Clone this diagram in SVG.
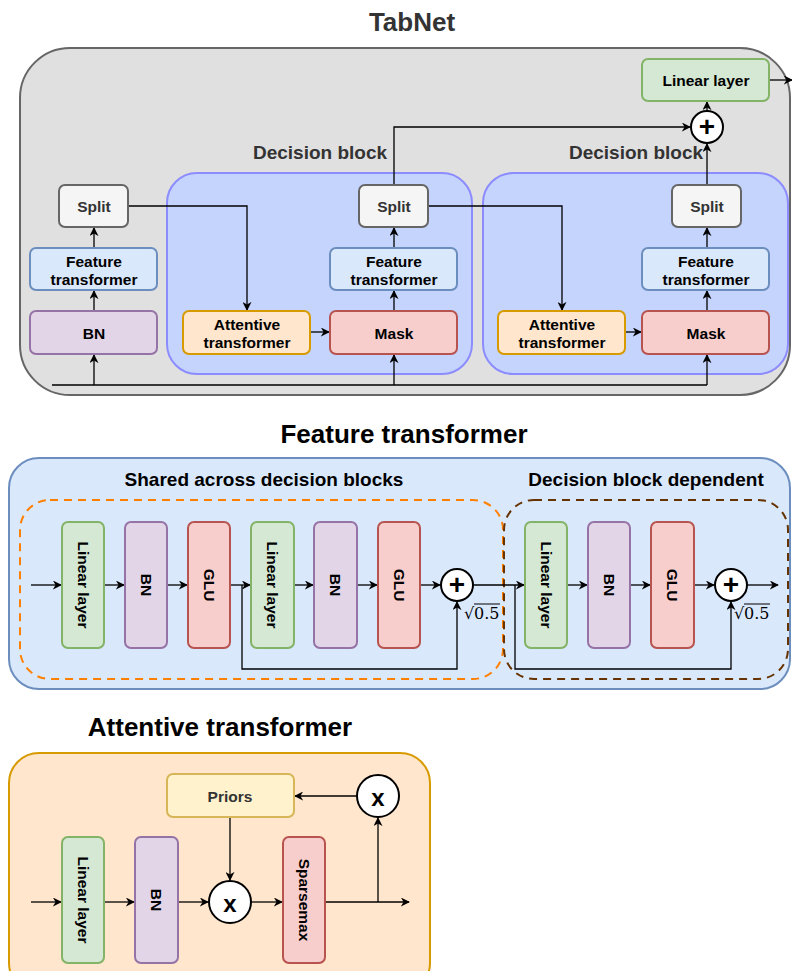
<svg xmlns="http://www.w3.org/2000/svg" width="792" height="971" viewBox="0 0 792 971">
<defs>
<marker id="arr" viewBox="0 0 10 10" refX="9" refY="5" markerWidth="9" markerHeight="9" markerUnits="userSpaceOnUse" orient="auto">
<path d="M0,0 L10,5 L0,10 L3,5 z" fill="#000"/>
</marker>
</defs>
<style>
.t{font-family:"Liberation Sans",Arial,sans-serif;font-weight:bold;text-anchor:middle;dominant-baseline:central}
.title{font-size:26px}
.sub{font-size:19px}
.lbl{font-size:15.5px}
.ln{fill:none;stroke:#000;stroke-width:1.3}
.la{fill:none;stroke:#000;stroke-width:1.3;marker-end:url(#arr)}
.gray{fill:#f5f5f5;stroke:#666;stroke-width:2}
.blue{fill:#dae8fc;stroke:#6c8ebf;stroke-width:2}
.purple{fill:#e1d5e7;stroke:#9673a6;stroke-width:2}
.orange{fill:#ffe6cc;stroke:#d79b00;stroke-width:2}
.red{fill:#f8cecc;stroke:#b85450;stroke-width:2}
.green{fill:#d5e8d4;stroke:#82b366;stroke-width:2}
.yellow{fill:#fff2cc;stroke:#d6b656;stroke-width:2}
.circ{fill:#fff;stroke:#000;stroke-width:2}
.sym{font-family:"Liberation Sans",Arial,sans-serif;font-weight:bold;text-anchor:middle;dominant-baseline:central}
.math{font-family:"DejaVu Serif","Liberation Serif",serif;font-size:16px}
</style>

<!-- ===== TabNet ===== -->
<g id="tabnet-title"><text class="t title" x="412" y="22" fill="#333">TabNet</text></g>
<g id="tabnet-box"><rect x="20" y="48" width="770" height="347" rx="50" fill="#e0e0e0" stroke="#666" stroke-width="2"/></g>

<g id="decision-block-1">
<rect x="167" y="173" width="305" height="201" rx="30" fill="#c5d4fd" stroke="#8c8cff" stroke-width="2"/>
<text class="t sub" x="320" y="152" fill="#333">Decision block</text>
</g>
<g id="decision-block-2">
<rect x="483" y="173" width="305" height="201" rx="30" fill="#c5d4fd" stroke="#8c8cff" stroke-width="2"/>
<text class="t sub" x="636" y="152" fill="#333">Decision block</text>
</g>

<g id="connectors-tabnet">
<path class="ln" d="M52,385 H707"/>
<path class="la" d="M94,385 V355"/>
<path class="la" d="M394,385 V355"/>
<path class="la" d="M707,385 V355"/>
<path class="la" d="M94,311 V291"/>
<path class="la" d="M94,248 V228"/>
<path class="la" d="M128,206 H247 V310"/>
<path class="la" d="M310,332 H329"/>
<path class="la" d="M394,311 V291"/>
<path class="la" d="M394,248 V228"/>
<path class="la" d="M428,206 H562 V310"/>
<path class="la" d="M625,332 H641"/>
<path class="la" d="M707,311 V291"/>
<path class="la" d="M707,248 V228"/>
<path class="la" d="M394,185 V127 H690"/>
<path class="la" d="M707,185 V144"/>
<path class="la" d="M707,111 V102"/>
<path class="la" d="M769,80 H792"/>
</g>

<g id="split-0"><rect class="gray" x="59" y="185" width="69" height="42" rx="6"/><text class="t lbl" x="94" y="206" fill="#333">Split</text></g>
<g id="ft-0"><rect class="blue" x="30" y="248" width="127" height="42" rx="6"/><text class="t lbl" x="94" y="261">Feature</text><text class="t lbl" x="94" y="279">transformer</text></g>
<g id="bn-0"><rect class="purple" x="30" y="311" width="127" height="43" rx="6"/><text class="t lbl" x="94" y="333">BN</text></g>

<g id="att-1"><rect class="orange" x="183" y="311" width="127" height="43" rx="6"/><text class="t lbl" x="247" y="324">Attentive</text><text class="t lbl" x="247" y="342">transformer</text></g>
<g id="mask-1"><rect class="red" x="330" y="311" width="127" height="43" rx="6"/><text class="t lbl" x="394" y="333">Mask</text></g>
<g id="ft-1"><rect class="blue" x="330" y="248" width="127" height="42" rx="6"/><text class="t lbl" x="394" y="261">Feature</text><text class="t lbl" x="394" y="279">transformer</text></g>
<g id="split-1"><rect class="gray" x="359" y="185" width="69" height="42" rx="6"/><text class="t lbl" x="394" y="206" fill="#333">Split</text></g>

<g id="att-2"><rect class="orange" x="498" y="311" width="127" height="43" rx="6"/><text class="t lbl" x="562" y="324">Attentive</text><text class="t lbl" x="562" y="342">transformer</text></g>
<g id="mask-2"><rect class="red" x="642" y="311" width="127" height="43" rx="6"/><text class="t lbl" x="706" y="333">Mask</text></g>
<g id="ft-2"><rect class="blue" x="642" y="248" width="127" height="42" rx="6"/><text class="t lbl" x="706" y="261">Feature</text><text class="t lbl" x="706" y="279">transformer</text></g>
<g id="split-2"><rect class="gray" x="672" y="185" width="69" height="42" rx="6"/><text class="t lbl" x="707" y="206" fill="#333">Split</text></g>

<g id="plus-top"><circle class="circ" cx="707" cy="127" r="16"/><text class="sym" x="707" y="126" font-size="28">+</text></g>
<g id="linear-top"><rect class="green" x="642" y="59" width="127" height="42" rx="6"/><text class="t lbl" x="706" y="80">Linear layer</text></g>

<!-- ===== Feature transformer ===== -->
<g id="ft-title"><text class="t title" x="404" y="434">Feature transformer</text></g>
<g id="ft-box"><rect class="blue" x="9" y="458" width="781" height="231" rx="30"/></g>
<g id="shared-group">
<rect x="20" y="500" width="483" height="179" rx="30" fill="none" stroke="#ff8000" stroke-width="2" stroke-dasharray="8,6"/>
<text class="t sub" x="264" y="479">Shared across decision blocks</text>
</g>
<g id="dependent-group">
<rect x="504" y="500" width="284" height="179" rx="30" fill="none" stroke="#663300" stroke-width="2" stroke-dasharray="8,6"/>
<text class="t sub" x="646" y="479">Decision block dependent</text>
</g>

<g id="connectors-ft">
<path class="la" d="M31,585 H61"/>
<path class="la" d="M104,585 H124"/>
<path class="la" d="M167,585 H187"/>
<path class="la" d="M230,585 H250"/>
<path class="la" d="M294,585 H313"/>
<path class="la" d="M357,585 H377"/>
<path class="la" d="M420,585 H440"/>
<path class="la" d="M473,585 H524"/>
<path class="la" d="M567,585 H587"/>
<path class="la" d="M630,585 H650"/>
<path class="la" d="M694,585 H714"/>
<path class="la" d="M747,585 H778"/>
<path class="la" d="M242,585 V669 H457 V602"/>
<path class="la" d="M515,585 V669 H731 V602"/>
</g>

<g id="ft-lin1"><rect class="green" x="62" y="522" width="42" height="126" rx="6"/><text class="t lbl" transform="translate(83,585) rotate(90)">Linear layer</text></g>
<g id="ft-bn1"><rect class="purple" x="125" y="522" width="42" height="126" rx="6"/><text class="t lbl" transform="translate(146,585) rotate(90)">BN</text></g>
<g id="ft-glu1"><rect class="red" x="188" y="522" width="42" height="126" rx="6"/><text class="t lbl" transform="translate(209,585) rotate(90)">GLU</text></g>
<g id="ft-lin2"><rect class="green" x="251" y="522" width="43" height="126" rx="6"/><text class="t lbl" transform="translate(272,585) rotate(90)">Linear layer</text></g>
<g id="ft-bn2"><rect class="purple" x="314" y="522" width="43" height="126" rx="6"/><text class="t lbl" transform="translate(335,585) rotate(90)">BN</text></g>
<g id="ft-glu2"><rect class="red" x="378" y="522" width="42" height="126" rx="6"/><text class="t lbl" transform="translate(399,585) rotate(90)">GLU</text></g>
<g id="ft-plus1"><circle class="circ" cx="457" cy="585" r="16"/><text class="sym" x="457" y="584" font-size="28">+</text>
<text class="math" x="464" y="619">√</text><text class="math" x="474" y="619">0.5</text><path d="M474,604 H500" stroke="#000" stroke-width="1"/></g>
<g id="ft-lin3"><rect class="green" x="525" y="522" width="42" height="126" rx="6"/><text class="t lbl" transform="translate(546,585) rotate(90)">Linear layer</text></g>
<g id="ft-bn3"><rect class="purple" x="588" y="522" width="42" height="126" rx="6"/><text class="t lbl" transform="translate(609,585) rotate(90)">BN</text></g>
<g id="ft-glu3"><rect class="red" x="651" y="522" width="43" height="126" rx="6"/><text class="t lbl" transform="translate(672,585) rotate(90)">GLU</text></g>
<g id="ft-plus2"><circle class="circ" cx="731" cy="585" r="16"/><text class="sym" x="731" y="584" font-size="28">+</text>
<text class="math" x="734" y="619">√</text><text class="math" x="744" y="619">0.5</text><path d="M744,604 H770" stroke="#000" stroke-width="1"/></g>

<!-- ===== Attentive transformer ===== -->
<g id="at-title"><text class="t title" x="220" y="727">Attentive transformer</text></g>
<g id="at-box"><rect class="orange" x="9" y="753" width="421" height="240" rx="30"/></g>

<g id="connectors-at">
<path class="la" d="M31,902 H61"/>
<path class="la" d="M104,902 H134"/>
<path class="la" d="M178,902 H208"/>
<path class="la" d="M251,902 H282"/>
<path class="la" d="M325,902 H409"/>
<path class="la" d="M378,902 V818"/>
<path class="la" d="M357,796 H295"/>
<path class="la" d="M230,817 V880"/>
</g>

<g id="at-priors"><rect class="yellow" x="167" y="774" width="127" height="43" rx="6"/><text class="t lbl" x="230" y="796" fill="#333">Priors</text></g>
<g id="at-mul-top"><circle class="circ" cx="378" cy="796" r="21"/><text class="sym" x="378" y="797" font-size="24">x</text></g>
<g id="at-lin"><rect class="green" x="62" y="837" width="42" height="126" rx="6"/><text class="t lbl" transform="translate(83,900) rotate(90)">Linear layer</text></g>
<g id="at-bn"><rect class="purple" x="135" y="837" width="43" height="126" rx="6"/><text class="t lbl" transform="translate(156,900) rotate(90)">BN</text></g>
<g id="at-mul"><circle class="circ" cx="230" cy="902" r="21"/><text class="sym" x="230" y="903" font-size="24">x</text></g>
<g id="at-sparsemax"><rect class="red" x="283" y="837" width="42" height="126" rx="6"/><text class="t lbl" transform="translate(304,900) rotate(90)">Sparsemax</text></g>
</svg>
